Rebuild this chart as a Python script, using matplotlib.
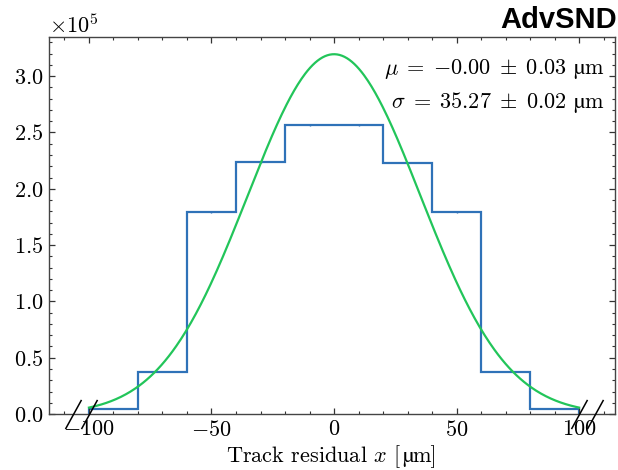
import numpy as np
import matplotlib
matplotlib.use("Agg")
import matplotlib.pyplot as plt
import matplotlib.transforms as mtransforms
from matplotlib.ticker import MultipleLocator

# ---- data ----
bin_edges = [-100, -80, -60, -40, -20, 0, 20, 40, 60, 80, 100]
counts = [4200, 37500, 179300, 223800, 256600, 256600, 223000, 179300, 37500, 4200]
fit_mu = 0.0
fit_sigma = 35.27
fit_amp = 319500
mu_math = r"$\mu\;=\;{-}0.00\;\pm\;0.03$"
sigma_math = r"$\sigma\;=\;35.27\;\pm\;0.02$"
unit_micro = "\u00b5"
unit_rest = "m"
break_marks = [-106.5, -100, 100, 106.5]
xlabel_pre = "Track residual $x$ ["
xlabel_post = "m]"
title = "AdvSND"

CM = "cmr10"
STIX = "STIXGeneral"

plt.rcParams["font.family"] = [CM, "DejaVu Serif"]
plt.rcParams["mathtext.fontset"] = "cm"
plt.rcParams["axes.formatter.use_mathtext"] = True
plt.rcParams["axes.unicode_minus"] = True

fig = plt.figure(figsize=(6.18, 4.70), dpi=100)
ax = fig.add_axes([0.0793, 0.119, 0.9157, 0.8016])

blue = "#2f72b8"
green = "#22c55a"

edges = np.array(bin_edges, dtype=float)
vals = np.array(counts, dtype=float)
ax.stairs(vals, edges, color=blue, lw=1.6)
centers = 0.5 * (edges[:-1] + edges[1:])
ax.errorbar(centers, vals, yerr=np.sqrt(vals), fmt="none", ecolor=blue, elinewidth=1)

xs = np.linspace(edges[0], edges[-1], 400)
ax.plot(xs, fit_amp * np.exp(-0.5 * ((xs - fit_mu) / fit_sigma) ** 2), color=green, lw=1.6)

ax.plot(break_marks, [0] * len(break_marks), ls="none",
        marker=[(-0.55, -1), (0.55, 1)], markersize=21, mew=1.1, mec="black",
        clip_on=False, zorder=5)

FS = 16
ax.set_xlim(-116.3, 114.6)
ax.set_ylim(0, 3.345e5)
ax.xaxis.set_major_locator(MultipleLocator(50))
ax.xaxis.set_minor_locator(MultipleLocator(10))
ax.yaxis.set_major_locator(MultipleLocator(0.5e5))
ax.yaxis.set_minor_locator(MultipleLocator(0.1e5))
ax.ticklabel_format(axis="y", style="sci", scilimits=(5, 5), useMathText=True)
ax.tick_params(which="both", direction="in", top=True, right=True, labelsize=FS,
               color="#333333")
ax.tick_params(which="major", length=4.5, width=0.9, pad=4)
ax.tick_params(which="minor", length=2.3, width=0.8)
ax.yaxis.get_offset_text().set_fontsize(FS)
for s in ax.spines.values():
    s.set_color("#444444")
    s.set_linewidth(1.0)


def seg_text(x, y, segments, transform, ha, fontsize):
    """segments: (string, family, gap_before_in_pixels)"""
    renderer = fig.canvas.get_renderer()
    texts = []
    for s, fam, gap in segments:
        t = fig.text(x, y, s, transform=transform, ha="left", va="baseline",
                     fontsize=fontsize, family=fam)
        texts.append((t, gap))
    widths = [t.get_window_extent(renderer=renderer).width for t, _ in texts]
    total = sum(widths) + sum(g for _, g in texts)
    off = {"left": 0.0, "center": -total / 2, "right": -total}[ha]
    for (t, gap), w in zip(texts, widths):
        off += gap
        t.set_transform(mtransforms.offset_copy(transform, x=off, y=0, units="dots"))
        off += w


seg_text(0.5, 0.016, [(xlabel_pre, CM, 0), (unit_micro, STIX, 0), (xlabel_post, CM, 0)],
         mtransforms.blended_transform_factory(ax.transAxes, fig.transFigure),
         "center", FS)
seg_text(0.979, 0.9026, [(mu_math, CM, 0), (unit_micro, STIX, 7), (unit_rest, CM, 0)],
         ax.transAxes, "right", FS)
seg_text(0.979, 0.812, [(sigma_math, CM, 0), (unit_micro, STIX, 7), (unit_rest, CM, 0)],
         ax.transAxes, "right", FS)

ax.text(1.003, 1.024, title, transform=ax.transAxes, ha="right", va="baseline",
        fontsize=21, fontweight="bold", family="Liberation Sans")

fig.savefig("out.png", dpi=100)
